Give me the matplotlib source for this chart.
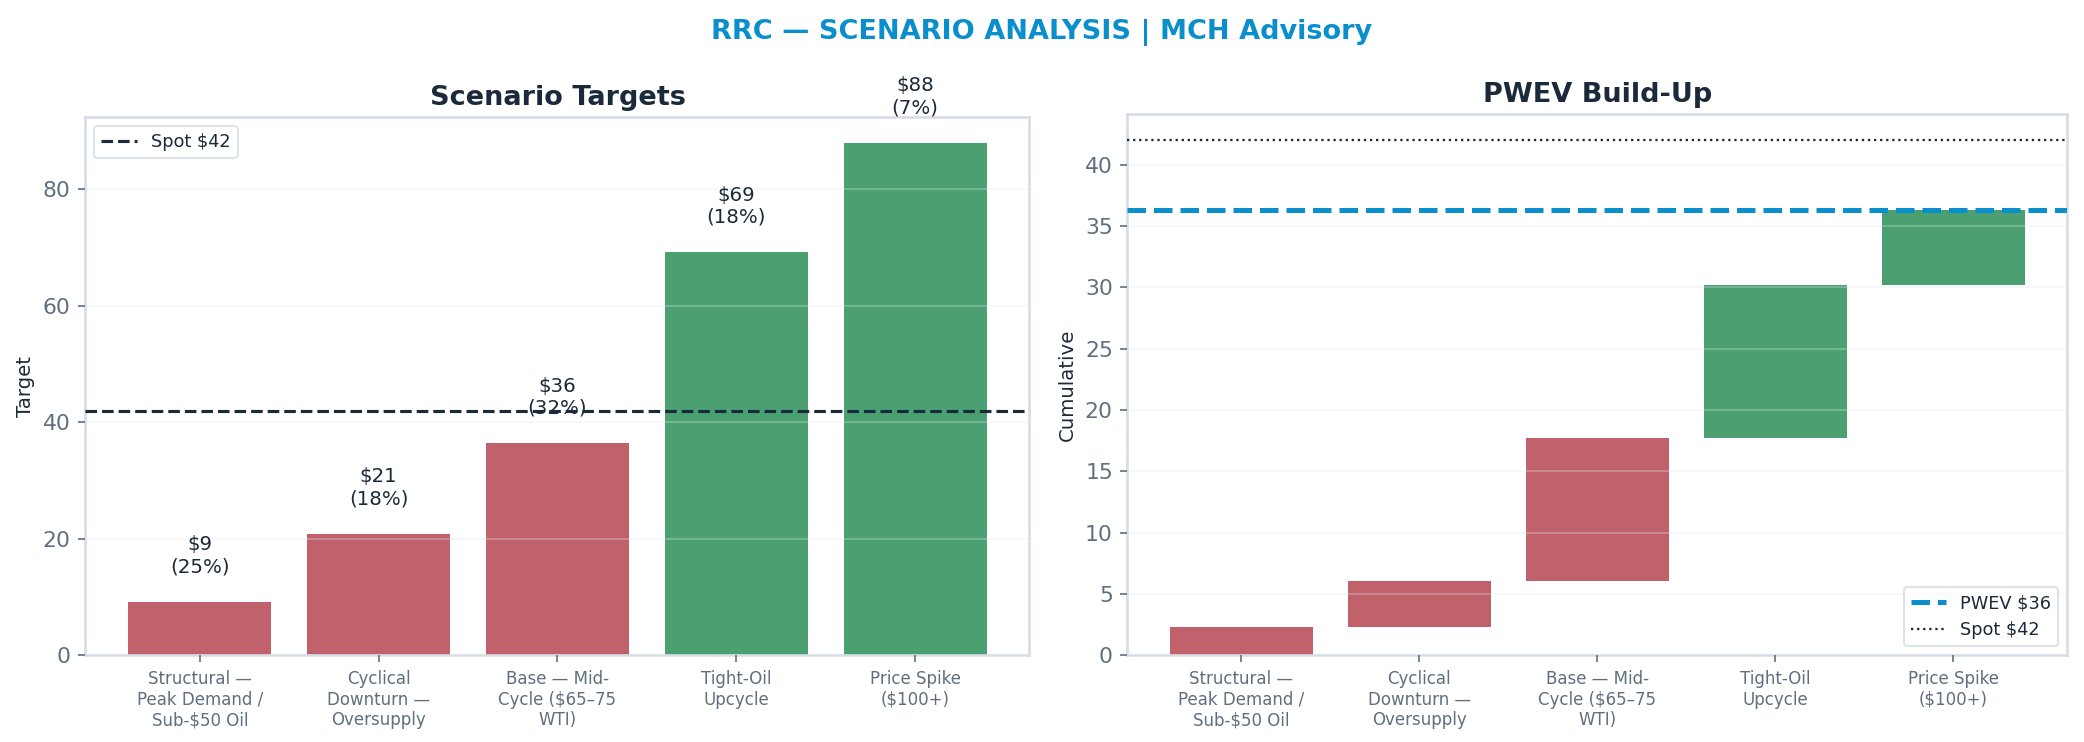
import matplotlib
matplotlib.use("Agg")
import matplotlib.pyplot as plt
import numpy as np

# scenario data
scenarios = ["Structural —\nPeak Demand /\nSub-$50 Oil",
             "Cyclical\nDownturn —\nOversupply",
             "Base — Mid-\nCycle ($65–75\nWTI)",
             "Tight-Oil\nUpcycle",
             "Price Spike\n($100+)"]
targets = [9.2, 20.8, 36.4, 69.2, 88.0]
probs = [0.25, 0.18, 0.32, 0.18, 0.07]
spot = 42.0

RED = "#C0616B"
GREEN = "#4AA070"
NAVY = "#1B2A3A"
BLUE = "#0A8FCC"
GRAY = "#5F6F80"
SPINE = "#D5DCE6"

plt.rcParams["font.family"] = "DejaVu Sans"

fig = plt.figure(figsize=(2084 / 150, 742 / 150), dpi=150)
ax1 = fig.add_axes([0.041, 0.117, 0.453, 0.725])
ax2 = fig.add_axes([0.541, 0.117, 0.451, 0.729])

fig.suptitle("RRC — SCENARIO ANALYSIS | MCH Advisory", color=BLUE,
             fontsize=13, fontweight="bold", y=0.975)


def style(ax):
    for s in ax.spines.values():
        s.set_color(SPINE)
        s.set_linewidth(1.2)
    ax.tick_params(axis="y", colors=GRAY, labelsize=10.5)
    ax.tick_params(axis="x", colors=GRAY, labelsize=8)
    # grid sits on top of the bars, faint
    ax.yaxis.grid(True, color="#E5E9EE", linewidth=0.8, alpha=0.35, zorder=3)
    ax.set_axisbelow(False)


x = np.arange(len(targets))
colors = [RED if t < spot else GREEN for t in targets]

# left: scenario targets
style(ax1)
ax1.bar(x, targets, width=0.8, color=colors, zorder=2)
ax1.axhline(spot, color=NAVY, linestyle="--", linewidth=1.5, label=f"Spot ${spot:.0f}", zorder=4)
off = max(targets) * 0.05
for i, (t, p) in enumerate(zip(targets, probs)):
    ax1.text(i, t + off, f"${t:.0f}\n({p:.0%})", ha="center", va="bottom",
             fontsize=9.5, color=NAVY)
ax1.set_ylim(0, max(targets) * 1.05)
ax1.set_xticks(x)
ax1.set_xticklabels(scenarios)
ax1.set_ylabel("Target", fontsize=9.5, color=NAVY)
ax1.set_title("Scenario Targets", fontsize=13, fontweight="bold", color=NAVY)
ax1.legend(loc="upper left", fontsize=8.5, labelcolor=NAVY, edgecolor=SPINE)

# right: PWEV build-up waterfall
style(ax2)
contrib = [t * p for t, p in zip(targets, probs)]
bottoms = np.concatenate([[0], np.cumsum(contrib)[:-1]])
pwev = sum(contrib)
ax2.bar(x, contrib, bottom=bottoms, width=0.8, color=colors, zorder=2)
ax2.axhline(pwev, color=BLUE, linestyle="--", linewidth=2.4, label=f"PWEV ${pwev:.0f}", zorder=4)
ax2.axhline(spot, color=NAVY, linestyle=":", linewidth=1.1, label=f"Spot ${spot:.0f}", zorder=4)
ax2.set_ylim(0, spot * 1.05)
ax2.set_xticks(x)
ax2.set_xticklabels(scenarios)
ax2.set_ylabel("Cumulative", fontsize=9.5, color=NAVY)
ax2.set_title("PWEV Build-Up", fontsize=13, fontweight="bold", color=NAVY)
ax2.legend(loc="lower right", fontsize=8.5, labelcolor=NAVY, edgecolor=SPINE)

fig.savefig("out.png", dpi=150)
